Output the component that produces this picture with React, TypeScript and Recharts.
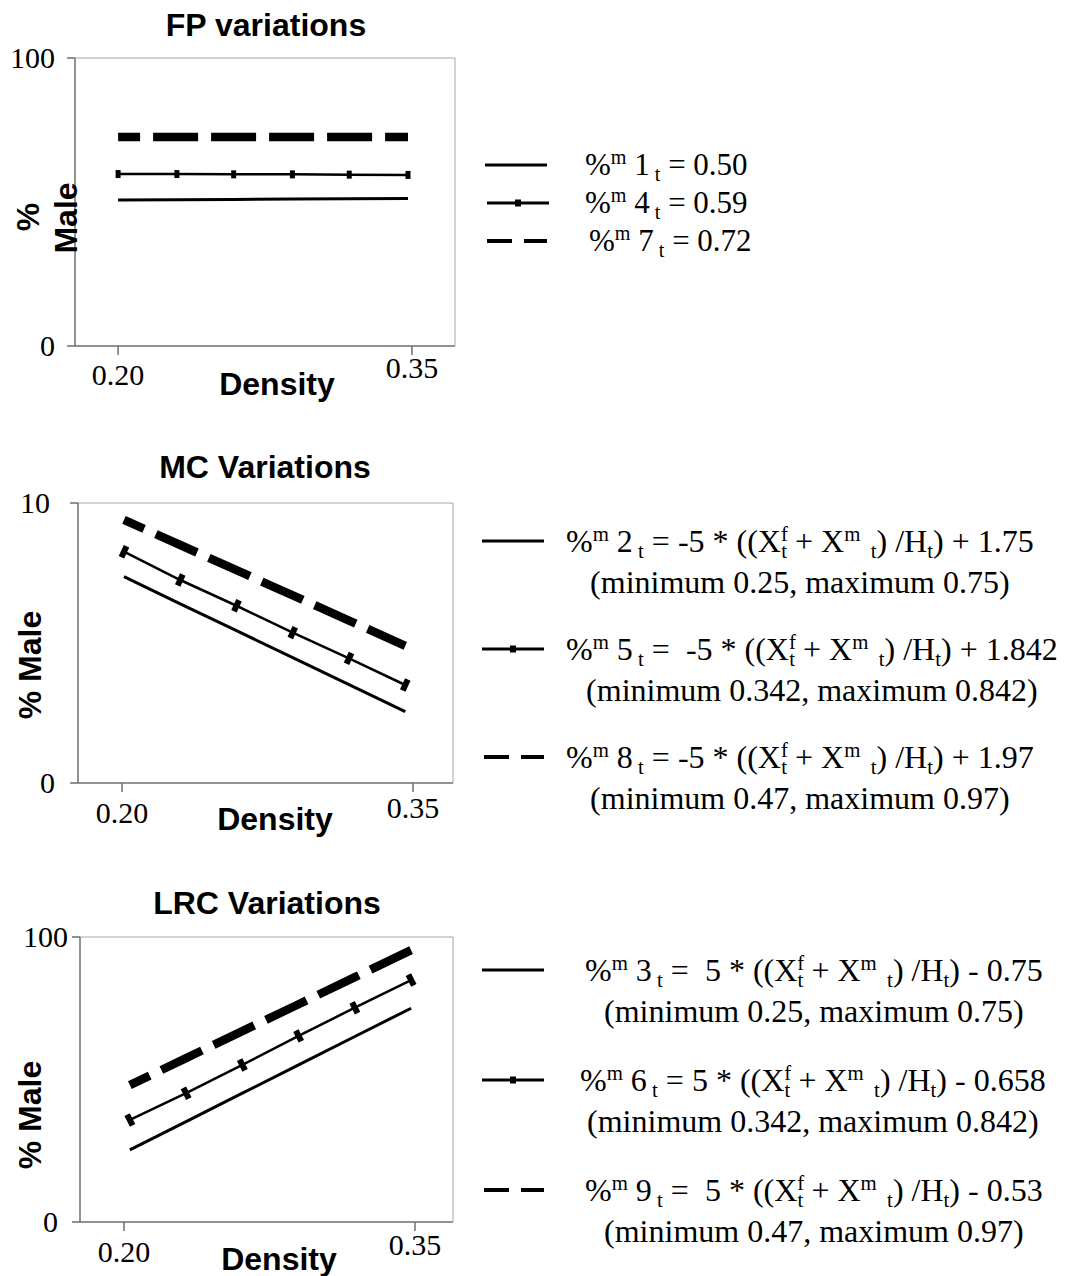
import React from "react";
import { LineChart, Line, XAxis, YAxis } from "recharts";

const SERIF = '"Liberation Serif", "Times New Roman", serif';
const SANS = '"Liberation Sans", Arial, sans-serif';
const AXIS = "#6e6e6e";
const FRAME = "#a6a6a6";

// FP variations (% male, 0-100)
const fpDensity = [0.2, 0.23, 0.259, 0.289, 0.318, 0.348];
const fp1 = [50.7, 50.8, 50.9, 51.0, 51.1, 51.2];
const fp4 = [59.7, 59.7, 59.6, 59.6, 59.5, 59.4];
const fp7 = [72.6, 72.6, 72.6, 72.6, 72.6, 72.6];

// MC variations (0-10)
const mcDensity = [0.201, 0.23, 0.259, 0.288, 0.317, 0.346];
const mc2 = [7.37, 6.4, 5.44, 4.48, 3.51, 2.55];
const mc5 = [8.26, 7.25, 6.33, 5.37, 4.45, 3.5];
const mc8 = [9.4, 8.5, 7.6, 6.7, 5.8, 4.9];

// LRC variations (0-100)
const lrcDensity = [0.203, 0.232, 0.261, 0.29, 0.319, 0.348];
const lrc3 = [25.3, 35.2, 45.2, 55.1, 65.1, 75.0];
const lrc6 = [35.8, 45.2, 55.1, 65.3, 75.2, 84.9];
const lrc9 = [48, 57.5, 67, 76.4, 85.9, 95.4];

const densityTicks = [0.2, 0.35];
const pctTicks = [0, 100];
const mcTicks = [0, 10];

type Row = { x: number; solid: number; marked: number; dashed: number };

const toRows = (xs: number[], solid: number[], marked: number[], dashed: number[]): Row[] =>
  xs.map((x, i) => ({ x, solid: solid[i], marked: marked[i], dashed: dashed[i] }));

type PanelProps = {
  top: number;
  height: number;
  // plot box edges inside the 470px wide chart
  box: { top: number; left: number; right: number; bottom: number };
  rows: Row[];
  yMax: number;
  yTicks: number[];
  xDomain: [number, number];
  title: string;
  titlePos: [number, number];
  yTitle: string[];
  yTitlePos: [number, number][];
  xTitlePos: [number, number];
  xTickDrop: number[];
  yTickGap: number[];
  mark: { w: number; h: number; angle: number };
};

function Panel(p: PanelProps) {
  const W = 470;
  // every axis is 1px thick in layout terms, so take it off the margin
  const margin = {
    top: p.box.top - 1,
    left: p.box.left - 1,
    right: W - p.box.right - 1,
    bottom: p.height - p.box.bottom - 1,
  };
  const xTick = (t: any) => (
    <text x={t.x} y={t.y + p.xTickDrop[t.index]} textAnchor="middle" fontFamily={SERIF} fontSize={30} fill="#000">
      {Number(t.payload.value).toFixed(2)}
    </text>
  );
  const yTick = (t: any) => (
    <text x={t.x + 8 - p.yTickGap[t.index]} y={t.y + 10} textAnchor="end" fontFamily={SERIF} fontSize={30} fill="#000">
      {t.payload.value}
    </text>
  );
  const dot = (d: any) => {
    if (d.cx == null || d.cy == null) return <g key={d.index} />;
    const { w, h, angle } = p.mark;
    return (
      <rect
        key={d.index}
        x={d.cx - w / 2}
        y={d.cy - h / 2}
        width={w}
        height={h}
        fill="#000"
        transform={`rotate(${angle} ${d.cx} ${d.cy})`}
      />
    );
  };
  const titleLabel = () => (
    <text x={p.titlePos[0]} y={p.titlePos[1]} textAnchor="middle" fontFamily={SANS} fontWeight="bold" fontSize={32} fill="#000">
      {p.title}
    </text>
  );
  const xLabel = () => (
    <text x={p.xTitlePos[0]} y={p.xTitlePos[1]} textAnchor="middle" fontFamily={SANS} fontWeight="bold" fontSize={32} fill="#000">
      Density
    </text>
  );
  const yLabel = () => (
    <g>
      {p.yTitle.map((s, i) => (
        <text
          key={s}
          transform={`translate(${p.yTitlePos[i][0]},${p.yTitlePos[i][1]}) rotate(-90)`}
          textAnchor="middle"
          dominantBaseline="central"
          fontFamily={SANS}
          fontWeight="bold"
          fontSize={32}
          fill="#000"
        >
          {s}
        </text>
      ))}
    </g>
  );

  return (
    <div style={{ position: "absolute", left: 0, top: p.top }}>
      <LineChart width={W} height={p.height} data={p.rows} margin={margin}>
        <XAxis
          dataKey="x"
          type="number"
          domain={p.xDomain}
          ticks={densityTicks}
          allowDataOverflow
          height={1}
          tickSize={9}
          tickMargin={0}
          stroke={AXIS}
          strokeWidth={1.5}
          tick={xTick}
          label={xLabel}
        />
        <XAxis
          xAxisId="top"
          orientation="top"
          dataKey="x"
          type="number"
          domain={p.xDomain}
          allowDataOverflow
          height={1}
          tick={false}
          tickLine={false}
          axisLine={{ stroke: FRAME }}
          label={titleLabel}
        />
        <YAxis
          type="number"
          domain={[0, p.yMax]}
          ticks={p.yTicks}
          width={1}
          tickSize={8}
          tickMargin={0}
          stroke={AXIS}
          strokeWidth={1.5}
          tick={yTick}
          label={yLabel}
        />
        <YAxis
          yAxisId="right"
          orientation="right"
          type="number"
          domain={[0, p.yMax]}
          width={1}
          tick={false}
          tickLine={false}
          axisLine={{ stroke: FRAME }}
        />
        <Line
          dataKey="solid"
          type="linear"
          stroke="#000"
          strokeWidth={3}
          dot={false}
          activeDot={false}
          isAnimationActive={false}
        />
        <Line
          dataKey="marked"
          type="linear"
          stroke="#000"
          strokeWidth={2.5}
          dot={dot}
          activeDot={false}
          isAnimationActive={false}
        />
        <Line
          dataKey="dashed"
          type="linear"
          stroke="#000"
          strokeWidth={8.5}
          strokeDasharray="45 13"
          strokeDashoffset={23}
          dot={false}
          activeDot={false}
          isAnimationActive={false}
        />
      </LineChart>
    </div>
  );
}

const Sup = ({ children }: { children: React.ReactNode }) => (
  <span style={{ fontSize: "0.65em", verticalAlign: "0.55em", lineHeight: 0 }}>{children}</span>
);
const Sub = ({ children, pull }: { children: React.ReactNode; pull?: boolean }) => (
  <span style={{ fontSize: "0.65em", verticalAlign: "-0.3em", lineHeight: 0, marginLeft: pull ? "-0.32em" : 0 }}>
    {children}
  </span>
);

function Sample({ kind, left, cy }: { kind: "solid" | "marked" | "dashed"; left: number; cy: number }) {
  return (
    <svg style={{ position: "absolute", left, top: cy - 6 }} width={64} height={12}>
      {kind === "dashed" ? (
        <g fill="#000">
          <rect x={2} y={4} width={25} height={4} />
          <rect x={39} y={4} width={23} height={4} />
        </g>
      ) : (
        <rect x={0} y={4.5} width={62} height={3} fill="#000" />
      )}
      {kind === "marked" && <rect x={28} y={2.5} width={6} height={7} fill="#000" />}
    </svg>
  );
}

function Formula({ n, rhs, tail }: { n: string; rhs: string; tail: string }) {
  return (
    <div>
      %<Sup>m</Sup> {n}
      <Sub> t</Sub>
      {rhs}((X<Sup>f</Sup>
      <Sub pull>t</Sub> + X<Sup>m</Sup>
      <Sub>{"  t"}</Sub>) /H<Sub>t</Sub>){tail}
    </div>
  );
}

function Entry({
  kind,
  sampleLeft,
  textLeft,
  cy,
  size = 32,
  lead = 41,
  children,
}: {
  kind: "solid" | "marked" | "dashed";
  sampleLeft: number;
  textLeft: number;
  cy: number;
  size?: number;
  lead?: number;
  children: React.ReactNode;
}) {
  return (
    <>
      <Sample kind={kind} left={sampleLeft} cy={cy} />
      <div
        style={{
          position: "absolute",
          left: textLeft,
          top: cy - lead / 2,
          fontFamily: SERIF,
          fontSize: size,
          lineHeight: `${lead}px`,
          textAlign: "center",
          whiteSpace: "pre",
          color: "#000",
        }}
      >
        {children}
      </div>
    </>
  );
}

export default function App() {
  return (
    <div style={{ position: "absolute", left: 0, top: 0, width: 1069, height: 1276, background: "#fff" }}>
      <Panel
        top={0}
        height={410}
        box={{ top: 58, left: 75, right: 455, bottom: 346 }}
        rows={toRows(fpDensity, fp1, fp4, fp7)}
        yMax={100}
        yTicks={pctTicks}
        xDomain={[0.178, 0.372]}
        title="FP variations"
        titlePos={[266, 36]}
        yTitle={["%", "Male"]}
        yTitlePos={[
          [28, 217],
          [66, 218],
        ]}
        xTitlePos={[277, 395]}
        xTickDrop={[30, 23]}
        yTickGap={[20, 20]}
        mark={{ w: 5, h: 8, angle: 0 }}
      />
      <Panel
        top={440}
        height={410}
        box={{ top: 63, left: 78, right: 453, bottom: 343 }}
        rows={toRows(mcDensity, mc2, mc5, mc8)}
        yMax={10}
        yTicks={mcTicks}
        xDomain={[0.1773, 0.3706]}
        title="MC Variations"
        titlePos={[265, 38]}
        yTitle={["% Male"]}
        yTitlePos={[[30, 225]]}
        xTitlePos={[275, 390]}
        xTickDrop={[31, 26]}
        yTickGap={[23, 28]}
        mark={{ w: 6, h: 12, angle: 25 }}
      />
      <Panel
        top={880}
        height={396}
        box={{ top: 57, left: 80, right: 453, bottom: 342 }}
        rows={toRows(lrcDensity, lrc3, lrc6, lrc9)}
        yMax={100}
        yTicks={pctTicks}
        xDomain={[0.1773, 0.3696]}
        title="LRC Variations"
        titlePos={[267, 34]}
        yTitle={["% Male"]}
        yTitlePos={[[30, 235]]}
        xTitlePos={[279, 390]}
        xTickDrop={[31, 24]}
        yTickGap={[22, 12]}
        mark={{ w: 6, h: 12, angle: -27 }}
      />

      {/* FP legend */}
      <Entry kind="solid" sampleLeft={485} textLeft={585} cy={165} size={31} lead={38}>
        <div>
          %<Sup>m</Sup> 1<Sub> t</Sub> = 0.50
        </div>
      </Entry>
      <Entry kind="marked" sampleLeft={487} textLeft={585} cy={203} size={31} lead={38}>
        <div>
          %<Sup>m</Sup> 4<Sub> t</Sub> = 0.59
        </div>
      </Entry>
      <Entry kind="dashed" sampleLeft={485} textLeft={589} cy={241} size={31} lead={38}>
        <div>
          %<Sup>m</Sup> 7<Sub> t</Sub> = 0.72
        </div>
      </Entry>

      {/* MC legend */}
      <Entry kind="solid" sampleLeft={482} textLeft={566} cy={541}>
        <Formula n="2" rhs=" = -5 * " tail=" + 1.75" />
        <div>(minimum 0.25, maximum 0.75)</div>
      </Entry>
      <Entry kind="marked" sampleLeft={482} textLeft={566} cy={649}>
        <Formula n="5" rhs=" =  -5 * " tail=" + 1.842" />
        <div>(minimum 0.342, maximum 0.842)</div>
      </Entry>
      <Entry kind="dashed" sampleLeft={482} textLeft={566} cy={757}>
        <Formula n="8" rhs=" = -5 * " tail=" + 1.97" />
        <div>(minimum 0.47, maximum 0.97)</div>
      </Entry>

      {/* LRC legend */}
      <Entry kind="solid" sampleLeft={482} textLeft={585} cy={970}>
        <Formula n="3" rhs=" =  5 * " tail=" - 0.75" />
        <div>(minimum 0.25, maximum 0.75)</div>
      </Entry>
      <Entry kind="marked" sampleLeft={482} textLeft={580} cy={1080}>
        <Formula n="6" rhs=" = 5 * " tail=" - 0.658" />
        <div>(minimum 0.342, maximum 0.842)</div>
      </Entry>
      <Entry kind="dashed" sampleLeft={482} textLeft={585} cy={1190}>
        <Formula n="9" rhs=" =  5 * " tail=" - 0.53" />
        <div>(minimum 0.47, maximum 0.97)</div>
      </Entry>
    </div>
  );
}
